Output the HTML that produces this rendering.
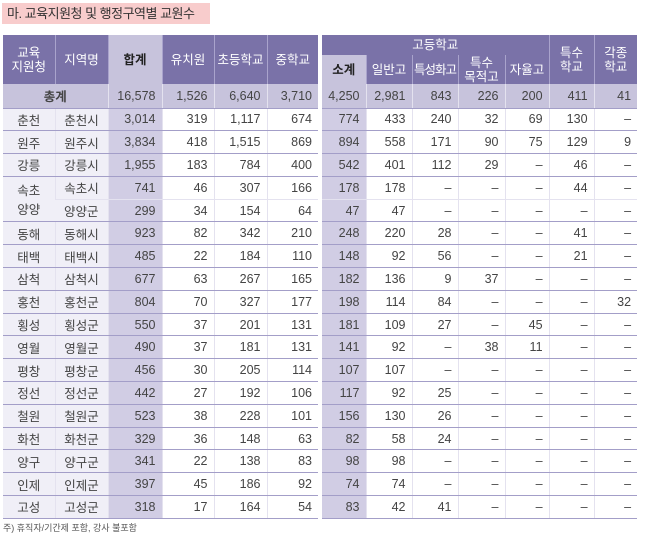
<!DOCTYPE html>
<html><head><meta charset="utf-8"><style>
body{margin:0;width:651px;height:539px;background:#fff;font-family:"Liberation Sans","Noto Sans CJK KR",sans-serif;position:relative;overflow:hidden}
.title{position:absolute;left:2px;top:3px;width:208px;height:21px;background:#f8cccc;font-size:13px;line-height:21px;padding-left:5px;box-sizing:border-box;color:#333;white-space:nowrap;letter-spacing:-0.5px}
table{position:absolute;top:35px;border-collapse:collapse;table-layout:fixed;font-size:12.5px;color:#444}
td{padding:0;height:22.8px;border-bottom:1px solid #a39ec8;border-left:1px solid #e4e2ef;text-align:right;padding-right:6px;box-sizing:border-box;white-space:nowrap}
th{background:#7a72a8;color:#fff;font-weight:normal;font-size:12.5px;border-left:1px solid #a9a3cc;line-height:14px;padding:0;white-space:nowrap}
th.l{background:#c7c3dc;color:#222;font-weight:bold}
tr.tot td{background:#c7c3dc;height:24px}
td.c{text-align:center;padding-right:0}
td.n{background:#f0eff7}
td.s{background:#d1cde4}
td:first-child,th:first-child{border-left:none}
.note{position:absolute;left:3px;top:521px;font-size:9px;color:#555}
</style></head><body>
<div class="title">마. 교육지원청 및 행정구역별 교원수</div>
<table style="left:3px;width:315px">
<colgroup><col style="width:52px"><col style="width:53px"><col style="width:54px"><col style="width:52px"><col style="width:53px"><col style="width:51px"></colgroup>
<tr style="height:49px"><th>교육<br>지원청</th><th>지역명</th><th class="l">합계</th><th>유치원</th><th>초등학교</th><th>중학교</th></tr>
<tr class="tot"><td class="c" colspan="2"><b>총계</b></td><td>16,578</td><td>1,526</td><td>6,640</td><td>3,710</td></tr>
<tr><td class="c n">춘천</td><td class="c n">춘천시</td><td class="s">3,014</td><td>319</td><td>1,117</td><td>674</td></tr>
<tr><td class="c n">원주</td><td class="c n">원주시</td><td class="s">3,834</td><td>418</td><td>1,515</td><td>869</td></tr>
<tr><td class="c n">강릉</td><td class="c n">강릉시</td><td class="s">1,955</td><td>183</td><td>784</td><td>400</td></tr>
<tr><td class="c n" rowspan="2">속초<br>양양</td><td class="c n" style="border-bottom-color:#e4e2ef">속초시</td><td class="s" style="border-bottom-color:#e4e2ef">741</td><td style="border-bottom-color:#e4e2ef">46</td><td style="border-bottom-color:#e4e2ef">307</td><td style="border-bottom-color:#e4e2ef">166</td></tr>
<tr><td class="c n">양양군</td><td class="s">299</td><td>34</td><td>154</td><td>64</td></tr>
<tr><td class="c n">동해</td><td class="c n">동해시</td><td class="s">923</td><td>82</td><td>342</td><td>210</td></tr>
<tr><td class="c n">태백</td><td class="c n">태백시</td><td class="s">485</td><td>22</td><td>184</td><td>110</td></tr>
<tr><td class="c n">삼척</td><td class="c n">삼척시</td><td class="s">677</td><td>63</td><td>267</td><td>165</td></tr>
<tr><td class="c n">홍천</td><td class="c n">홍천군</td><td class="s">804</td><td>70</td><td>327</td><td>177</td></tr>
<tr><td class="c n">횡성</td><td class="c n">횡성군</td><td class="s">550</td><td>37</td><td>201</td><td>131</td></tr>
<tr><td class="c n">영월</td><td class="c n">영월군</td><td class="s">490</td><td>37</td><td>181</td><td>131</td></tr>
<tr><td class="c n">평창</td><td class="c n">평창군</td><td class="s">456</td><td>30</td><td>205</td><td>114</td></tr>
<tr><td class="c n">정선</td><td class="c n">정선군</td><td class="s">442</td><td>27</td><td>192</td><td>106</td></tr>
<tr><td class="c n">철원</td><td class="c n">철원군</td><td class="s">523</td><td>38</td><td>228</td><td>101</td></tr>
<tr><td class="c n">화천</td><td class="c n">화천군</td><td class="s">329</td><td>36</td><td>148</td><td>63</td></tr>
<tr><td class="c n">양구</td><td class="c n">양구군</td><td class="s">341</td><td>22</td><td>138</td><td>83</td></tr>
<tr><td class="c n">인제</td><td class="c n">인제군</td><td class="s">397</td><td>45</td><td>186</td><td>92</td></tr>
<tr><td class="c n">고성</td><td class="c n">고성군</td><td class="s">318</td><td>17</td><td>164</td><td>54</td></tr>
</table>
<table style="left:322px;width:315px">
<colgroup><col style="width:44px"><col style="width:46px"><col style="width:46px"><col style="width:47px"><col style="width:44px"><col style="width:45px"><col style="width:43px"></colgroup>
<tr style="height:20px"><th colspan="5">고등학교</th><th rowspan="2">특수<br>학교</th><th rowspan="2">각종<br>학교</th></tr>
<tr style="height:29px"><th class="l">소계</th><th>일반고</th><th style="letter-spacing:-1px">특성화고</th><th>특수<br>목적고</th><th>자율고</th></tr>
<tr class="tot"><td>4,250</td><td>2,981</td><td>843</td><td>226</td><td>200</td><td>411</td><td>41</td></tr>
<tr><td class="s">774</td><td>433</td><td>240</td><td>32</td><td>69</td><td>130</td><td>–</td></tr>
<tr><td class="s">894</td><td>558</td><td>171</td><td>90</td><td>75</td><td>129</td><td>9</td></tr>
<tr><td class="s">542</td><td>401</td><td>112</td><td>29</td><td>–</td><td>46</td><td>–</td></tr>
<tr><td class="s" style="border-bottom-color:#e4e2ef">178</td><td style="border-bottom-color:#e4e2ef">178</td><td style="border-bottom-color:#e4e2ef">–</td><td style="border-bottom-color:#e4e2ef">–</td><td style="border-bottom-color:#e4e2ef">–</td><td style="border-bottom-color:#e4e2ef">44</td><td style="border-bottom-color:#e4e2ef">–</td></tr>
<tr><td class="s">47</td><td>47</td><td>–</td><td>–</td><td>–</td><td>–</td><td>–</td></tr>
<tr><td class="s">248</td><td>220</td><td>28</td><td>–</td><td>–</td><td>41</td><td>–</td></tr>
<tr><td class="s">148</td><td>92</td><td>56</td><td>–</td><td>–</td><td>21</td><td>–</td></tr>
<tr><td class="s">182</td><td>136</td><td>9</td><td>37</td><td>–</td><td>–</td><td>–</td></tr>
<tr><td class="s">198</td><td>114</td><td>84</td><td>–</td><td>–</td><td>–</td><td>32</td></tr>
<tr><td class="s">181</td><td>109</td><td>27</td><td>–</td><td>45</td><td>–</td><td>–</td></tr>
<tr><td class="s">141</td><td>92</td><td>–</td><td>38</td><td>11</td><td>–</td><td>–</td></tr>
<tr><td class="s">107</td><td>107</td><td>–</td><td>–</td><td>–</td><td>–</td><td>–</td></tr>
<tr><td class="s">117</td><td>92</td><td>25</td><td>–</td><td>–</td><td>–</td><td>–</td></tr>
<tr><td class="s">156</td><td>130</td><td>26</td><td>–</td><td>–</td><td>–</td><td>–</td></tr>
<tr><td class="s">82</td><td>58</td><td>24</td><td>–</td><td>–</td><td>–</td><td>–</td></tr>
<tr><td class="s">98</td><td>98</td><td>–</td><td>–</td><td>–</td><td>–</td><td>–</td></tr>
<tr><td class="s">74</td><td>74</td><td>–</td><td>–</td><td>–</td><td>–</td><td>–</td></tr>
<tr><td class="s">83</td><td>42</td><td>41</td><td>–</td><td>–</td><td>–</td><td>–</td></tr>
</table>
<div class="note">주) 휴직자/기간제 포함, 강사 불포함</div>
</body></html>
